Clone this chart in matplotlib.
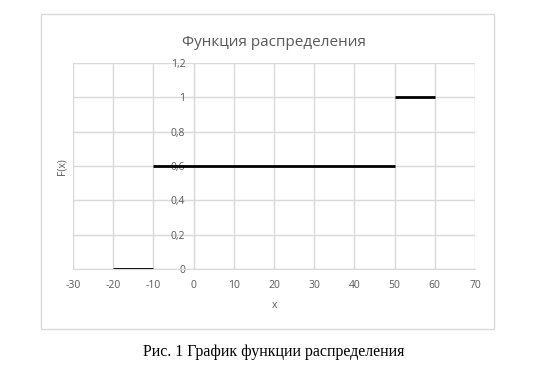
import matplotlib
matplotlib.use("Agg")
import matplotlib.pyplot as plt
from matplotlib.patches import Rectangle

# step segments of F(x)
seg_x0 = [-20, -10, 50]
seg_x1 = [-10, 50, 60]
seg_y = [0, 0.6, 1]

x_ticks = [-30, -20, -10, 0, 10, 20, 30, 40, 50, 60, 70]
y_ticks = [0, 0.2, 0.4, 0.6, 0.8, 1.0, 1.2]
y_labels = ["0", "0,2", "0,4", "0,6", "0,8", "1", "1,2"]

W, H = 553, 365
plt.rcParams['font.family'] = ['Open Sans', 'DejaVu Sans']
plt.rcParams['axes.unicode_minus'] = False
fig = plt.figure(figsize=(W / 100, H / 100), dpi=100)

# outer chart frame
fig.patches.append(Rectangle((41 / W, 1 - 329 / H), (494 - 41) / W, (329 - 14) / H,
                             transform=fig.transFigure, fill=False,
                             edgecolor='#d9d9d9', linewidth=1))

ax = fig.add_axes([73 / W, 1 - 269 / H, (475 - 73) / W, (269 - 63) / H])
grey = '#595959'

for a, b, y in zip(seg_x0, seg_x1, seg_y):
    ax.plot([a, b], [y, y], color='black', linewidth=2, solid_capstyle='butt', zorder=3)

ax.set_xlim(-30, 70)
ax.set_ylim(0, 1.2)
ax.set_xticks(x_ticks)
ax.set_yticks(y_ticks)
ax.set_yticklabels(y_labels)
ax.grid(True, color='#d9d9d9', linewidth=1)
ax.set_axisbelow(True)

for s in ['top', 'right']:
    ax.spines[s].set_visible(False)
ax.spines['left'].set_position(('data', 0))
ax.spines['left'].set_color('#d9d9d9')
ax.spines['bottom'].set_color('#d9d9d9')
ax.tick_params(length=0, labelsize=7.5, colors=grey)
ax.tick_params(axis='x', pad=8)
ax.tick_params(axis='y', pad=6)

ax.set_title('Функция распределения', color=grey, fontsize=11, pad=12)
fig.text(62 / W, 1 - 167 / H, 'F(x)', rotation=90, color=grey, fontsize=7.5,
         ha='center', va='center')
fig.text(274 / W, 1 - 306 / H, 'x', color=grey, fontsize=7.5, ha='center', va='center')
fig.text(274 / W, 1 - 352 / H, 'Рис. 1 График функции распределения',
         family='Liberation Serif', fontsize=11.5, color='black', ha='center', va='center')

fig.savefig('out.png', dpi=100)
